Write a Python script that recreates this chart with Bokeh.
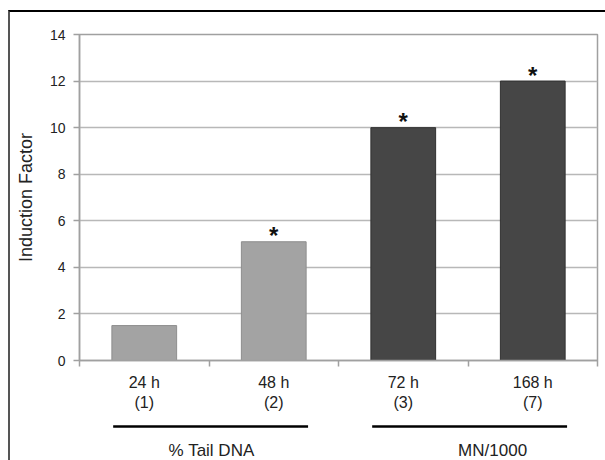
from bokeh.plotting import figure
from bokeh.layouts import column
from bokeh.models import Range1d, FixedTicker
from bokeh.core.properties import value
from bokeh.embed import file_html
from bokeh.resources import INLINE

# ---- data ----
times = ["24 h", "48 h", "72 h", "168 h"]
days = ["(1)", "(2)", "(3)", "(7)"]
induction = [1.5, 5.1, 10.0, 12.0]
significant = [False, True, True, True]
bar_colors = ["#a3a3a3", "#a3a3a3", "#464646", "#464646"]
bar_edges = ["#8e8e8e", "#8e8e8e", "#303030", "#303030"]
groups = ["% Tail DNA", "MN/1000"]
group_members = [[0, 1], [2, 3]]
y_ticks = [0, 2, 4, 6, 8, 10, 12, 14]

FONT = "Liberation Sans"
TXT = "#222222"

xr = Range1d(0, len(times))

# ---- main chart ----
p = figure(width=595, height=360, x_range=xr, y_range=Range1d(0, 14),
           output_backend="svg", toolbar_location=None,
           min_border_left=69, min_border_right=8, min_border_top=22, min_border_bottom=12)
p.background_fill_color = "white"
p.border_fill_color = "white"
p.outline_line_color = "#a0a0a0"
p.outline_line_width = 1.5

xs = [i + 0.5 for i in range(len(times))]
p.vbar(x=xs, top=induction, width=0.5, bottom=0, fill_color=bar_colors,
       line_color=bar_edges, line_width=1)

# asterisks
ax = [x for x, s in zip(xs, significant) if s]
ay = [v for v, s in zip(induction, significant) if s]
p.text(x=ax, y=ay, text=["*"] * len(ax), text_align="center", text_baseline="alphabetic",
       text_font=value(FONT), text_font_size="24px", text_font_style="bold", text_color="#111111",
       y_offset=-6)

p.yaxis.ticker = FixedTicker(ticks=y_ticks)
p.yaxis.minor_tick_line_color = None
p.yaxis.major_tick_in = 0
p.yaxis.major_tick_out = 6
p.yaxis.axis_line_color = "#a0a0a0"
p.yaxis.axis_line_width = 1.5
p.yaxis.major_tick_line_color = "#a0a0a0"
p.yaxis.major_tick_line_width = 1.5
p.yaxis.major_label_text_font = FONT
p.yaxis.major_label_text_font_size = "14px"
p.yaxis.major_label_text_color = TXT
p.yaxis.major_label_standoff = 8
p.yaxis.axis_label = "Induction Factor"
p.yaxis.axis_label_text_font = FONT
p.yaxis.axis_label_text_font_size = "18px"
p.yaxis.axis_label_text_font_style = "normal"
p.yaxis.axis_label_text_color = TXT
p.yaxis.axis_label_standoff = 11

p.xaxis.ticker = FixedTicker(ticks=list(range(len(times) + 1)))
p.xaxis.minor_tick_line_color = None
p.xaxis.major_tick_in = 0
p.xaxis.major_tick_out = 6
p.xaxis.axis_line_color = "#a0a0a0"
p.xaxis.axis_line_width = 1.5
p.xaxis.major_tick_line_color = "#a0a0a0"
p.xaxis.major_tick_line_width = 1.5
p.xaxis.major_label_overrides = {i: "" for i in range(len(times) + 1)}
p.xaxis.major_label_text_font_size = "0px"
p.xaxis.major_label_standoff = 0

p.xgrid.grid_line_color = None
p.ygrid.ticker = FixedTicker(ticks=y_ticks)
p.ygrid.grid_line_color = "#b8b8b8"
p.ygrid.grid_line_width = 1.5

# ---- category / group labels below the axis ----
q = figure(width=595, height=88, x_range=xr, y_range=Range1d(88, 0),
           output_backend="svg", toolbar_location=None,
           x_axis_location=None, y_axis_location=None,
           min_border_left=69, min_border_right=8, min_border_top=0, min_border_bottom=0)
q.grid.visible = False
q.outline_line_color = None
q.background_fill_color = "white"
q.border_fill_color = "white"

q.text(x=xs, y=[9.5] * len(xs), text=times, text_align="center", text_baseline="alphabetic",
       text_font=value(FONT), text_font_size="16px", text_color=TXT)
q.text(x=xs, y=[29.5] * len(xs), text=days, text_align="center", text_baseline="alphabetic",
       text_font=value(FONT), text_font_size="16px", text_color=TXT)

gx0 = [m[0] + 0.26 for m in group_members]
gx1 = [m[-1] + 0.765 for m in group_members]
q.segment(x0=gx0, x1=gx1, y0=[54] * len(groups), y1=[54] * len(groups),
          line_color="black", line_width=2.5)
group_label_x = [1.02, 3.19]
q.text(x=group_label_x, y=[77.5] * len(groups), text=groups, text_align="center",
       text_baseline="alphabetic", text_font=value(FONT), text_font_size="17px", text_color=TXT)

layout = column(p, q, spacing=0, margin=(10, 0, 0, 8),
                styles={"border-top": "2px solid #000000", "border-left": "2px solid #555555"})

open("out.html", "w").write(file_html(layout, INLINE))
